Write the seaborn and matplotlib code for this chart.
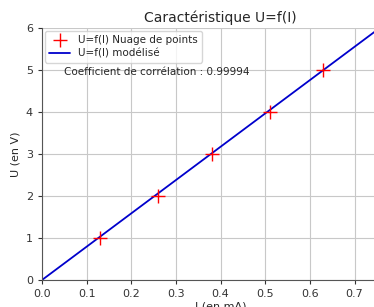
import numpy as np
import pandas as pd
import matplotlib
matplotlib.use("Agg")
import matplotlib.pyplot as plt
import seaborn as sns

# ── Data ───────────────────────────────────────────────
courant = [0.13, 0.26, 0.38, 0.51, 0.63]   # I en mA
tension = [1.0, 2.0, 3.0, 4.0, 5.0]         # U en V
pente = 7.93                                # modèle U = k * I
i_modele = [0.0, 0.8]
coef_corr = "0.99994"

# ── Style ──────────────────────────────────────────────
sns.set_style("whitegrid", {"grid.color": "#c8c8c8", "axes.edgecolor": "#555555",
                            "xtick.bottom": True, "ytick.left": True})
plt.rcParams['font.family'] = ['DejaVu Sans']

fig = plt.figure(figsize=(3.74, 3.07), dpi=100)
ax = fig.add_axes([0.1123, 0.088, 0.955, 0.821])

df_pts = pd.DataFrame({"I": courant, "U": tension})
df_mod = pd.DataFrame({"I": i_modele, "U": [pente * i for i in i_modele]})

sns.scatterplot(data=df_pts, x="I", y="U", marker="+", color="red", s=90,
                linewidth=1.0, label="U=f(I) Nuage de points", ax=ax, zorder=3)
sns.lineplot(data=df_mod, x="I", y="U", color="#0000cc", linewidth=1.3,
             label="U=f(I) modélisé", ax=ax, zorder=2)

ax.set_xlim(0, 0.8)
ax.set_ylim(0, 6)
ax.set_xticks(np.arange(0, 0.8, 0.1))
ax.set_yticks(range(0, 7))
ax.tick_params(labelsize=8, length=3, width=0.8, colors="#333333")
ax.set_xlabel("I (en mA)", fontsize=8, labelpad=2)
ax.set_ylabel("U (en V)", fontsize=8)
ax.set_title("Caractéristique U=f(I)", fontsize=10, pad=4)
for side in ["top", "right"]:
    ax.spines[side].set_visible(False)

ax.text(0.049, 4.95, f"Coefficient de corrélation : {coef_corr}",
        fontsize=7.5, va="center", ha="left")
ax.legend(loc="upper left", fontsize=7.5, frameon=True, borderaxespad=0.3,
          handlelength=2, labelspacing=0.3)

fig.savefig("out.png", dpi=100)
